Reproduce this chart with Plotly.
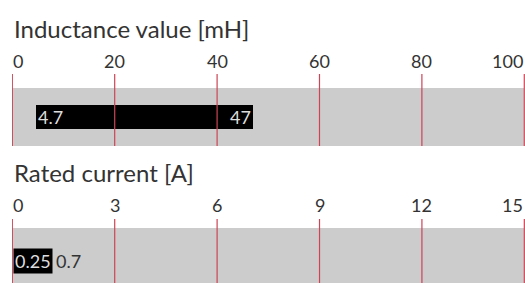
import plotly.graph_objects as go

# ---- data ----
ind_title = "Inductance value [mH]"
ind_ticks = [0, 20, 40, 60, 80, 100]
ind_min, ind_max = 4.7, 47
cur_title = "Rated current [A]"
cur_ticks = [0, 3, 6, 9, 12, 15]
cur_min, cur_max = 0.25, 0.7

W, H = 525, 283
FONT = "Lato"
TXT = "#333333"
GRAY = "#cccccc"
RED = "#cc4455"
TW = 400

def py(px):
    return 1 - px / H

fig = go.Figure()

# top panel (x, y)
fig.add_trace(go.Bar(y=[29], x=[ind_ticks[-1] - ind_ticks[0]], base=[ind_ticks[0]], width=58,
                     orientation="h", marker=dict(color=GRAY, line=dict(width=0)),
                     xaxis="x", yaxis="y", hoverinfo="skip", showlegend=False))
fig.add_trace(go.Bar(y=[29], x=[ind_max - ind_min], base=[ind_min], width=24,
                     orientation="h", marker=dict(color="black", line=dict(width=0)),
                     xaxis="x", yaxis="y", hoverinfo="skip", showlegend=False))
# bottom panel (x2, y2)
fig.add_trace(go.Bar(y=[22], x=[cur_ticks[-1] - cur_ticks[0]], base=[cur_ticks[0]], width=66,
                     orientation="h", marker=dict(color=GRAY, line=dict(width=0)),
                     xaxis="x2", yaxis="y2", hoverinfo="skip", showlegend=False))
fig.add_trace(go.Bar(y=[22], x=[cur_max - cur_min], base=[cur_min], width=24,
                     orientation="h", marker=dict(color="black", line=dict(width=0)),
                     xaxis="x2", yaxis="y2", hoverinfo="skip", showlegend=False))

# gridlines drawn above bars
shapes = []
for t in ind_ticks:
    shapes.append(dict(type="line", xref="x", yref="y domain", x0=t, x1=t, y0=0, y1=1,
                       line=dict(color=RED, width=1.2), layer="above"))
for t in cur_ticks:
    shapes.append(dict(type="line", xref="x2", yref="y2 domain", x0=t, x1=t, y0=0, y1=1,
                       line=dict(color=RED, width=1.2), layer="above"))

def tf(size, color=TXT):
    return dict(family=FONT, size=size, color=color, weight=TW)

ann = [
    dict(text=ind_title, xref="paper", yref="paper", x=0.0, y=py(28), xanchor="left",
         yanchor="middle", showarrow=False, font=tf(24)),
    dict(text=cur_title, xref="paper", yref="paper", x=0.0, y=py(172), xanchor="left",
         yanchor="middle", showarrow=False, font=tf(24)),
    dict(text=str(ind_min), xref="x", yref="y", x=ind_min, y=29, xanchor="left", xshift=0,
         yanchor="middle", showarrow=False, font=tf(18, "#dddddd")),
    dict(text=str(ind_max), xref="x", yref="y", x=ind_max, y=29, xanchor="right", xshift=0,
         yanchor="middle", showarrow=False, font=tf(18, "#dddddd")),
    dict(text=str(cur_min), xref="x2", yref="y2", x=cur_ticks[0], y=22, xanchor="left", xshift=1,
         yanchor="middle", showarrow=False, bgcolor="black", borderpad=1,
         font=tf(18, "#dddddd")),
    dict(text=str(cur_max), xref="x2", yref="y2", x=cur_ticks[0], y=22, xanchor="left", xshift=42,
         yanchor="middle", showarrow=False, font=tf(18)),
]

# tick labels: first left-aligned, last right-aligned, others centred
for axref, ticks, ypx in (("x", ind_ticks, 61), ("x2", cur_ticks, 205)):
    for i, t in enumerate(ticks):
        anchor = "left" if i == 0 else ("right" if i == len(ticks) - 1 else "center")
        ann.append(dict(text=str(t), xref=axref, yref="paper", x=t, y=py(ypx),
                        xanchor=anchor, yanchor="middle", showarrow=False,
                        xshift=-1 if anchor == "left" else (1 if anchor == "right" else 0),
                        font=tf(18)))

axcommon = dict(showgrid=False, zeroline=False, showline=False, ticks="",
                showticklabels=False, fixedrange=True)

fig.update_layout(
    width=W, height=H, margin=dict(l=12, r=0, t=0, b=0, autoexpand=False),
    paper_bgcolor="white", plot_bgcolor="white", barmode="overlay", bargap=0,
    xaxis=dict(range=[-0.06, 100.14], anchor="y", **axcommon),
    yaxis=dict(domain=[py(146), py(74)], range=[0, 72], visible=False, fixedrange=True),
    xaxis2=dict(range=[-0.009, 15.02], anchor="y2", **axcommon),
    yaxis2=dict(domain=[0, py(219)], range=[0, 64], visible=False, fixedrange=True),
    shapes=shapes, annotations=ann,
)

fig.write_html("out.html", config={"displayModeBar": False},
               post_script="document.body.style.margin='0';document.body.style.overflow='hidden';")
